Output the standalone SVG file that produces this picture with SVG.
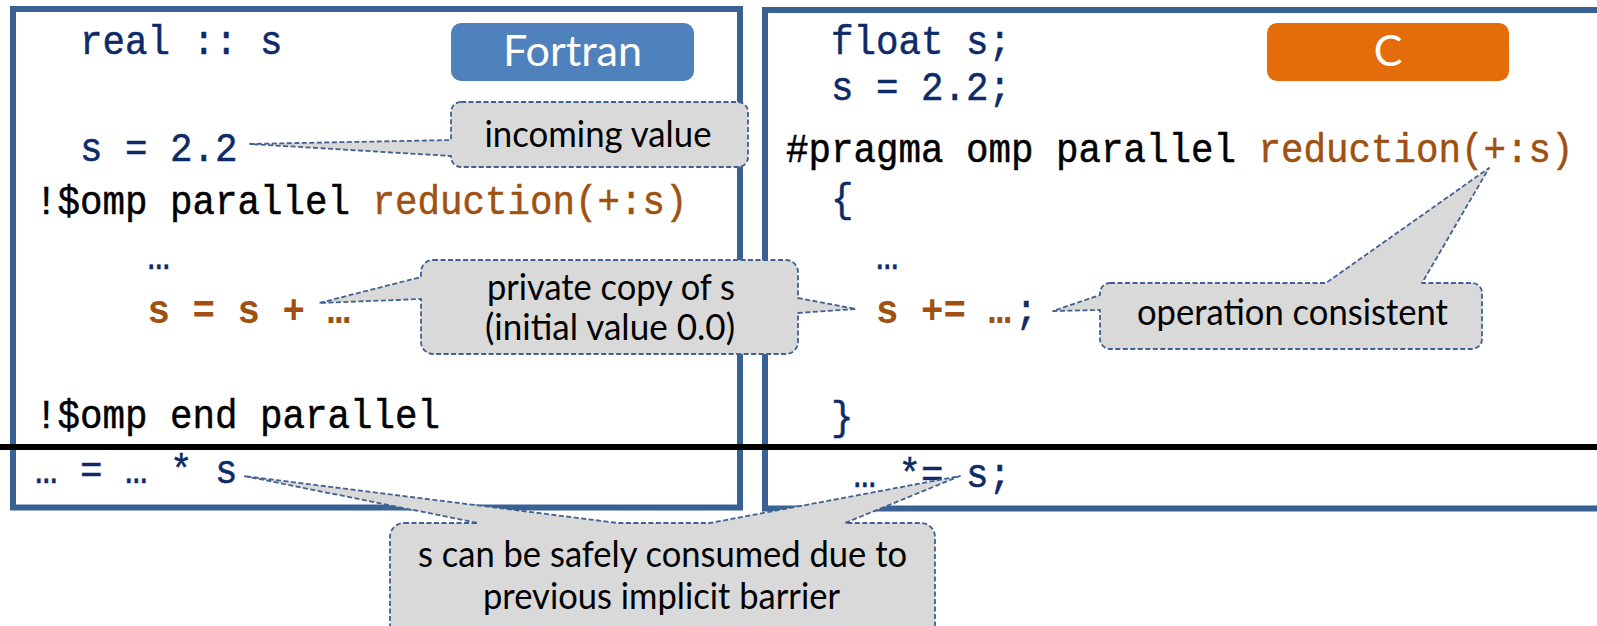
<svg xmlns="http://www.w3.org/2000/svg" width="1597" height="626" viewBox="0 0 1597 626">
  <defs>
    <style>
      .panel { fill: #ffffff; stroke: #3a6194; stroke-width: 6; }
      .code { font-family: "Liberation Mono", "DejaVu Sans Mono", monospace; font-size: 41px; stroke-width: 0.5; }
      .navy { fill: #0f2a68; stroke: #0f2a68; }
      .blk { fill: #000000; stroke: #000000; }
      .brn { fill: #a0500f; stroke: #a0500f; }
      .bold { font-weight: bold; stroke-width: 0; }
      .tag { font-family: Lato, "Open Sans", sans-serif; font-size: 43px; fill: #ffffff; text-anchor: middle; }
      .bubble { fill: #d9d9d9; stroke: #41618f; stroke-width: 1.8; stroke-dasharray: 5 2.5; stroke-linejoin: round; }
      .note { font-family: Lato, "Open Sans", sans-serif; font-size: 36px; fill: #000000; text-anchor: middle; }
    </style>
  </defs>

  <rect width="1597" height="626" fill="#ffffff"/>

  <!-- Fortran panel: monospace cells are 22.5px wide, column 0 at x=35 -->
  <g id="fortran-panel">
    <rect class="panel" x="13" y="9" width="727" height="498.5"/>
    <g id="fortran-tag">
      <rect x="451" y="23" width="243" height="58" rx="10" fill="#4f81bd"/>
      <text class="tag" x="572.5" y="66" textLength="139" lengthAdjust="spacingAndGlyphs">Fortran</text>
    </g>
    <text class="code navy" x="80" y="54" textLength="202.5" lengthAdjust="spacingAndGlyphs">real :: s</text>
    <text class="code navy" x="80" y="161" textLength="157.5" lengthAdjust="spacingAndGlyphs">s = 2.2</text>
    <text class="code blk" x="35" y="214" textLength="315" lengthAdjust="spacingAndGlyphs">!$omp parallel</text>
    <text class="code brn" x="372.5" y="214" textLength="315" lengthAdjust="spacingAndGlyphs">reduction(+:s)</text>
    <text class="code navy" x="147.5" y="269" textLength="22.5" lengthAdjust="spacingAndGlyphs">…</text>
    <text class="code brn bold" x="147.5" y="323" textLength="202.5" lengthAdjust="spacingAndGlyphs">s = s + …</text>
    <text class="code blk" x="35" y="428" textLength="405" lengthAdjust="spacingAndGlyphs">!$omp end parallel</text>
    <text class="code navy" x="35" y="483" textLength="202.5" lengthAdjust="spacingAndGlyphs">… = … * s</text>
  </g>

  <!-- C panel: column 0 at x=786 -->
  <g id="c-panel">
    <rect class="panel" x="765" y="10" width="850" height="498.5"/>
    <g id="c-tag">
      <rect x="1267" y="23" width="242" height="58" rx="10" fill="#e46c0a"/>
      <text class="tag" x="1388" y="66">C</text>
    </g>
    <text class="code navy" x="831" y="54" textLength="180" lengthAdjust="spacingAndGlyphs">float s;</text>
    <text class="code navy" x="831" y="100" textLength="180" lengthAdjust="spacingAndGlyphs">s = 2.2;</text>
    <text class="code blk" x="786" y="162" textLength="450" lengthAdjust="spacingAndGlyphs">#pragma omp parallel</text>
    <text class="code brn" x="1258.5" y="162" textLength="315" lengthAdjust="spacingAndGlyphs">reduction(+:s)</text>
    <text class="code navy" x="831" y="212" textLength="22.5" lengthAdjust="spacingAndGlyphs">{</text>
    <text class="code navy" x="876" y="269" textLength="22.5" lengthAdjust="spacingAndGlyphs">…</text>
    <text class="code brn bold" x="876" y="323" textLength="135" lengthAdjust="spacingAndGlyphs">s += …</text>
    <text class="code navy" x="1015" y="323" textLength="22.5" lengthAdjust="spacingAndGlyphs">;</text>
    <text class="code navy" x="831" y="430" textLength="22.5" lengthAdjust="spacingAndGlyphs">}</text>
    <text class="code navy" x="853.5" y="487" textLength="157.5" lengthAdjust="spacingAndGlyphs">… *= s;</text>
  </g>

  <!-- implicit barrier line -->
  <line id="barrier" x1="0" y1="447" x2="1597" y2="447" stroke="#000000" stroke-width="6"/>

  <!-- callouts with their pointer tails -->
  <g id="connectors">
    <g id="note-incoming">
      <path class="bubble" d="M461,102 H738 A10,10 0 0 1 748,112 V157 A10,10 0 0 1 738,167 H461 A10,10 0 0 1 451,157 V156 L250,144 L451,140 V112 A10,10 0 0 1 461,102 Z"/>
      <text class="note" x="598" y="147" textLength="227" lengthAdjust="spacingAndGlyphs">incoming value</text>
    </g>
    <g id="note-private">
      <path class="bubble" d="M433,260 H786 A12,12 0 0 1 798,272 V298 L856,309 L798,313 V342 A12,12 0 0 1 786,354 H433 A12,12 0 0 1 421,342 V299 L319,303 L421,277 V272 A12,12 0 0 1 433,260 Z"/>
      <text class="note" x="611" y="300" textLength="248" lengthAdjust="spacingAndGlyphs">private copy of s</text>
      <text class="note" x="610" y="340" textLength="250" lengthAdjust="spacingAndGlyphs">(initial value 0.0)</text>
    </g>
    <g id="note-operation">
      <path class="bubble" d="M1110,283 H1326 L1489,168 L1422,283 H1472 A10,10 0 0 1 1482,293 V339 A10,10 0 0 1 1472,349 H1110 A10,10 0 0 1 1100,339 V310 L1053,311 L1100,295 V293 A10,10 0 0 1 1110,283 Z"/>
      <text class="note" x="1292.5" y="325" textLength="311" lengthAdjust="spacingAndGlyphs">operation consistent</text>
    </g>
    <g id="note-barrier">
      <path class="bubble" d="M404,523 H478 L244,476 L618,523 H710 L960,476 L845,523 H921 A14,14 0 0 1 935,537 V660 H390 V537 A14,14 0 0 1 404,523 Z"/>
      <text class="note" x="662.5" y="567" textLength="489" lengthAdjust="spacingAndGlyphs">s can be safely consumed due to</text>
      <text class="note" x="661.5" y="609" textLength="357" lengthAdjust="spacingAndGlyphs">previous implicit barrier</text>
    </g>
  </g>
</svg>
